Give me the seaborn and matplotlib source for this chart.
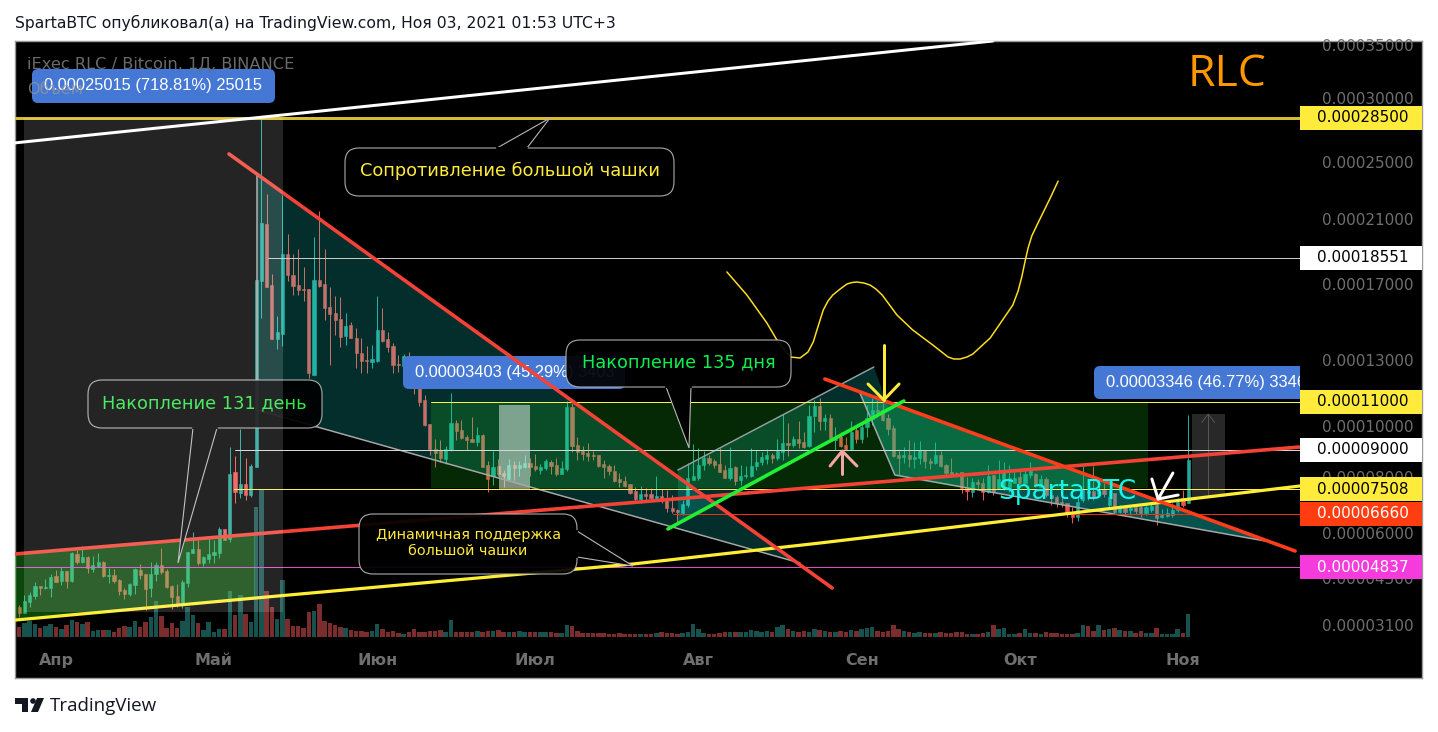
import numpy as np
import pandas as pd
import matplotlib
matplotlib.use("Agg")
import matplotlib.pyplot as plt
from matplotlib.patches import FancyBboxPatch, Polygon, Rectangle, Circle
import seaborn as sns

# -- Data: prices in satoshi (1e-8 BTC), days counted from 1 April ----------
FIRST_DAY = -7
OPEN = [3637,3457,3787,3967,4267,4207,4207,4567,4417,4717,4417,5280,5008,5179,4777,4871,5008,4567,4597,4447,4147,4027,4297,4747,4627,4207,4627,4905,4717,4267,3967,3697,
        4357,5316,5453,4974,5111,5247,5316,6139,5795,8185,7372,7713,7304,8370,17180,20693,16945,14105,14368,18803,
        17540,16945,16735,16735,12285,17240,17000,15788,15472,15157,14262,14841,14157,13368,13000,12904,12952,14578,14105,13736,
        12809,12714,13210,12523,12047,11095,10084,9042,9000,8666,
        9000,10125,9834,9542,9459,9334,9625,8444,8037,8407,8148,7918,8444,8333,8370,8518,8407,8259,8333,8555,
        8444,8111,8296,10792,9208,8962,8888,8814,8814,8481,8407,8222,7918,7836,7713,7440,7168,7338,7338,7202,
        7270,7135,6863,6796,6694,6965,7877,7959,8444,8703,8592,8481,8259,7959,8370,7877,8037,8037,8407,8555,
        8666,8814,8703,8925,9292,9208,9459,9334,9167,10417,10834,10209,10334,9417,9542,9208,9042,9834,9459,9959,
        10292,10667,10667,10334,9917,8814,8740,8814,8666,8703,8962,8592,8518,8814,8444,8185,8148,8185,7549,7406,
        7795,7754,7406,8074,7508,7590,7590,7754,8000,7754,8074,8111,7590,7918,7304,7236,7067,7033,6694,6556,
        7135,7440,7440,7338,7474,6965,7372,6728,6897,6796,6897,6897,6694,6796,6965,6556,6590,6625,6796,7202,7033]
HIGH = [3697,3997,4087,4387,4267,4477,4627,4747,4837,4717,5350,5520,5555,5213,5213,5316,5042,4807,4777,4477,4207,4357,4807,4940,4627,5008,5008,5487,4777,4297,4327,4447,
        5350,6035,5760,5213,5863,5760,6208,6139,9125,8777,9876,8703,8481,17240,28500,22750,17600,15314,22680,20063,
        18803,19118,18020,16735,19874,21560,19118,16840,16366,16314,15472,14999,14683,14157,13736,13789,16366,15735,14473,13894,
        13263,13316,13421,12523,12523,11333,10084,9459,9417,9167,
        11430,10250,10250,9625,10375,9959,9667,8592,8962,8666,8259,8666,8592,8592,8814,8703,8851,8481,8666,8629,
        8703,8592,11048,10958,9542,9167,9292,8962,8814,8629,8481,8444,8148,8037,7713,7590,7631,7549,7549,8037,
        7508,7474,7304,6830,7135,8518,9250,9083,8962,8814,8666,9083,8444,9125,8407,8444,8407,9083,9000,8925,
        9042,8888,9459,10500,10125,9584,10209,9750,10875,11095,11190,10500,10500,9959,9750,9542,10209,9959,10125,10875,
        11190,11095,10958,10500,10042,9042,9125,9417,9334,9375,9000,8703,9334,8962,8481,8703,8185,8185,8000,7959,
        7918,7959,8444,8074,8629,8555,8444,8222,8259,8333,8555,8148,8074,8000,7474,7304,7202,7033,6897,7236,
        8407,7672,8407,7754,7754,7474,7372,6965,6965,6965,6999,6965,6965,7033,7033,6830,6863,7033,7202,7474,10459]
LOW = [3337,3457,3637,3877,3997,4177,3937,4387,4297,4207,4387,4940,4974,4657,4687,4837,4537,4357,4357,3997,3877,3967,4027,4477,3547,3937,4417,4627,4207,3577,3637,3607,
       4237,5316,4905,4871,4974,4974,5145,5760,5692,7033,7202,7135,7236,8370,15209,16840,14105,13579,13736,17180,
       16419,16419,16103,12142,12285,16840,15104,12761,14315,13684,13789,14157,12618,12380,12380,12618,12904,13947,13421,12380,
       12428,12666,12428,11381,10834,10000,8814,8370,8555,8481,
       8962,9417,9459,9000,9334,9167,8370,7406,7672,8037,7590,7877,7877,8037,8333,8037,8222,8111,8259,8111,
       8037,8111,8222,8925,8629,8629,8592,8629,8370,7959,8074,7795,7590,7590,7338,7033,7033,7101,7135,7135,
       7033,6728,6694,6347,6625,6897,7877,7877,8259,8444,8333,8185,7959,7877,7672,7672,7959,8000,8259,8444,
       8481,8518,8629,8629,8777,9125,9083,9083,9125,9750,9834,9834,9417,9000,9125,9000,9000,9292,9292,9542,
       10042,10375,10209,9625,8740,8074,8518,8370,8333,8481,8333,8296,8481,8370,8074,8037,8000,7372,7135,7236,
       7508,7135,7372,7304,7508,7474,7406,7754,7713,7754,7959,7590,7590,7236,6965,6897,6897,6556,6347,6416,
       7067,7135,7135,7236,7236,6897,6694,6694,6660,6625,6660,6556,6625,6728,6278,6521,6556,6556,6728,6897,7033]
CLOSE = [3457,3817,3997,4267,4207,4237,4537,4387,4717,4417,5316,5008,5179,4807,4905,5008,4567,4597,4417,4117,4027,4327,4777,4597,4177,4627,4905,4687,4237,3937,3697,4387,
         5350,5453,4974,5179,5282,5350,6139,5760,8111,7406,7713,7304,8407,17240,20756,16840,14105,14473,18803,17540,
         16892,16682,16682,12380,17240,16892,15735,15420,15104,14210,14788,14157,13368,12952,12952,13053,14578,13999,13684,12761,
         12761,13210,12523,12047,11000,10042,9042,8888,8703,9042,
         10125,9792,9500,9417,9334,9625,8370,7918,8370,8111,8037,8444,8333,8444,8518,8370,8296,8370,8592,8407,
         8111,8333,10792,9167,8925,8851,8777,8777,8407,8370,8222,7836,7795,7631,7372,7168,7338,7270,7202,7270,
         7101,6863,6762,6728,6999,7959,8037,8444,8703,8518,8444,8185,7959,8333,7836,8037,8074,8407,8555,8740,
         8814,8703,8962,9292,9208,9459,9292,9125,10417,10834,10209,10334,9500,9500,9167,9042,9750,9459,9959,10334,
         10667,10584,10250,9876,8777,8703,8814,8666,8740,9000,8592,8518,8814,8407,8148,8074,8111,7549,7440,7795,
         7713,7406,8037,7406,7918,8185,7959,7959,7754,8111,8222,7631,7918,7304,7202,7033,6999,6694,6556,7067,
         7474,7372,7236,7474,7338,7236,6728,6897,6728,6863,6762,6694,6897,6931,6521,6625,6694,6796,7067,6965,8629]
VOLUME = [10,14,16,13,9,11,13,10,8,12,17,15,13,15,6,7,7,7,5,9,11,10,16,10,15,20,36,21,9,14,9,16,
          30,22,14,7,15,5,8,8,46,22,42,23,15,130,148,46,30,18,57,18,11,11,9,25,26,33,16,14,12,
          10,9,7,6,6,5,6,13,8,5,6,4,3,5,8,
          5,5,6,6,7,5,17,5,5,5,5,6,5,6,6,7,
          5,5,5,6,5,5,5,5,5,5,4,4,
          12,11,6,4,4,4,4,4,3,3,4,3,3,3,3,3,3,4,5,4,4,3,4,
          5,13,8,4,3,3,4,5,5,5,5,5,7,6,5,6,5,10,12,8,6,5,6,5,8,7,6,5,5,
          6,5,7,6,8,9,10,6,5,6,12,8,6,5,4,5,4,4,4,5,4,4,5,5,3,3,3,4,5,12,
          8,9,3,3,4,8,4,4,3,5,4,4,3,3,3,4,12,11,6,12,7,8,9,7,6,6,4,6,4,4,9,3,3,3,8,4,23]

MONTH_DAYS = [0, 30, 61, 91, 122, 153, 183, 214]
MONTH_LABELS = ["Апр", "Май", "Июн", "Июл", "Авг", "Сен", "Окт", "Ноя"]
PRICE_TICKS = [35000, 30000, 25000, 21000, 17000, 13000, 10000, 8000, 6000, 4500, 3100]

# price axis of the chart is neither linear nor log, so it goes through anchors
SCALE_PRICE = [2500, 3100, 4837, 6000, 6660, 7508, 8000, 9000, 11000, 13000, 17000, 18551, 21000, 25000, 28500, 30000, 35000, 35380]
SCALE_PIXEL = [645, 625, 567, 533, 514, 489, 477, 450, 402, 360, 284, 258, 219, 162, 118, 98, 45, 41]

# horizontal levels: price, first day, colour, width
LEVEL_PRICE = [28500, 18551, 11000, 9000, 7508, 6660, 4837]
LEVEL_START = [-7.8, 40.3, 71.2, 34.0, 33.8, 117.2, -7.8]
LEVEL_COLOR = ["#d6bd2e", "#c9c9c9", "#fff04a", "#d5d5d5", "#fff04a", "#e8301a", "#d94fc8"]
LEVEL_WIDTH = [3, 1, 1, 1, 1, 1, 1]
TAG_FILL = ["#ffeb3b", "#ffffff", "#ffeb3b", "#ffffff", "#ffeb3b", "#ff3d10", "#f63bdc"]
TAG_TEXT = ["#000000", "#000000", "#000000", "#000000", "#000000", "#ffffff", "#ffffff"]

# drawn trend lines
WHITE_DAY, WHITE_PRICE = [-7.8, 177.9], [26520, 35380]
RED1_DAY, RED1_PRICE = [32.85, 147.4], [25640, 4207]
RED2_DAY, RED2_PRICE = [146.0, 235.3], [12095, 5384]
RED3_DAY, RED3_PRICE = [-7.8, 236.2], [5282, 9125]
SUPPORT_DAY, SUPPORT_PRICE = [-7.8, 37.8, 109.6, 145.1, 236.2], [3247, 3907, 4940, 5658, 7631]
GREEN_DAY, GREEN_PRICE = [116.2, 161.0], [6139, 11048]
BRUSH_DAY = [127.4,131.2,135.0,136.9,139.4,141.3,142.8,143.8,144.5,145.1,145.7,146.6,147.5,148.9,150.2,151.2,152.1,153.4,154.6,155.7,
             156.9,159.7,162.7,166.5,169.4,170.5,171.7,173.0,174.1,177.4,181.7,182.7,183.4,184.0,184.6,185.3,186.3,188.8,190.3]
BRUSH_PRICE = [17720,16419,14946,14052,13158,13105,13421,13947,14578,15104,15630,16103,16419,16735,17000,17090,17120,17060,16945,16735,
               16419,15367,14578,13789,13158,13053,13053,13158,13316,14157,15893,16630,17420,18320,19181,19937,20630,22470,23660]

# shaded regions
WEDGE1_DAY, WEDGE1_PRICE = [38.17, 141.28, 38.17], [24150, 4974, 10667]
WEDGE2_DAY, WEDGE2_PRICE = [118.1, 155.3, 158.2, 118.1], [8259, 12666, 10667, 6347]
WEDGE3_DAY, WEDGE3_PRICE = [152.5, 159.3, 230.7], [11524, 8074, 5692]
BASE_DAY, BASE_PRICE = [-7.8, 37.8, 37.8, -7.8], [5282, 5966, 3907, 3247]
RANGE_DAY, RANGE_PRICE = [71.2, 207.4], [11000, 7549]
HILITE_DAY, HILITE_PRICE = [84.1, 90.0], [10875, 7508]
GREY_DAY, GREY_PRICE = [-6.08, 43.1], [28500, 3487]
GREY2_DAY, GREY2_PRICE = [215.7, 221.9], [10500, 7236]

# arrows: shaft then head
ARROWS = [
    ("#ffeb3b", [157.2, 157.2], [13789, 11095], [154.2, 157.2, 160.1], [11857, 11095, 11857]),
    ("#f4a6a0", [149.3, 149.3], [8111, 8962], [147.0, 149.3, 152.1], [8407, 8962, 8407]),
    ("#ffffff", [212.1, 209.3], [8148, 7168], [208.1, 209.3, 213.1], [7918, 7168, 7304]),
]

# -- Style -------------------------------------------------------------------
sns.set_theme(style="dark")
plt.rcParams["font.family"] = ["DejaVu Sans"]

UP, DOWN = "#26a69a", "#ef5350"
TICK_GREY = "#6f6f6f"
W, H = 1438, 732
L, R, T, B = 15, 1300, 41, 645


def rect(x0, y0, x1, y1):
    return [x0 / W, 1 - y1 / H, (x1 - x0) / W, (y1 - y0) / H]


def forward(p):
    return np.interp(p, SCALE_PRICE, -np.array(SCALE_PIXEL, dtype=float))


def inverse(v):
    return np.interp(v, -np.array(SCALE_PIXEL, dtype=float), SCALE_PRICE)


fig = plt.figure(figsize=(W / 100, H / 100), dpi=100, facecolor="white")

bg = fig.add_axes(rect(15, 41, 1422, 678), facecolor="black")
bg.set_xticks([])
bg.set_yticks([])
for s in bg.spines.values():
    s.set_color("#9a9a9a")
    s.set_linewidth(1)

days = np.arange(FIRST_DAY, FIRST_DAY + len(OPEN))
opens, highs, lows, closes = map(np.array, (OPEN, HIGH, LOW, CLOSE))
is_up = closes >= opens
xlim = ((L - 56) / 5.266, (R - 56) / 5.266)

# volume pane
vol = fig.add_axes(rect(L, T, R, 637), facecolor="none")
vol_df = pd.DataFrame({"day": days, "volume": VOLUME, "side": np.where(is_up, "up", "down")})
sns.barplot(data=vol_df, x="day", y="volume", hue="side", native_scale=True, dodge=False,
            palette={"up": "#17524f", "down": "#7b2c2c"}, width=0.85, errorbar=None,
            legend=False, saturation=1, linewidth=0, ax=vol)
vol.set_xlim(*xlim)
vol.set_ylim(0, 596)
vol.set_axis_off()

# price pane
ax = fig.add_axes(rect(L, T, R, B), facecolor="none")
ax.set_yscale("function", functions=(forward, inverse))
px = fig.add_axes(rect(L, T, R, B))
px.set_xlim(L, R)
px.set_ylim(B, T)
px.set_axis_off()
PX = px.transData

colors = [UP if u else DOWN for u in is_up]
ax.vlines(days, lows, highs, colors=colors, linewidth=0.72, zorder=2)
ax.bar(days, np.abs(closes - opens), bottom=np.minimum(opens, closes), width=0.6,
       color=colors, edgecolor=colors, linewidth=0.4, zorder=2)


def stroke(xs, ys, color, width, z=4, alpha=1.0):
    sns.lineplot(x=xs, y=ys, sort=False, estimator=None, color=color, linewidth=width * 0.72,
                 zorder=z, alpha=alpha, ax=ax)


def box(xs, ys, color, alpha, z=3):
    ax.fill([xs[0], xs[1], xs[1], xs[0]], [ys[0], ys[0], ys[1], ys[1]], color=color, alpha=alpha,
            linewidth=0, zorder=z)


# shaded areas sit over the candles, that is what dulls them
ax.fill(WEDGE1_DAY, WEDGE1_PRICE, color="#16e8d8", alpha=0.2, linewidth=0, zorder=3)
ax.fill(WEDGE2_DAY, WEDGE2_PRICE, color="#16e8d8", alpha=0.2, linewidth=0, zorder=3)
ax.fill(WEDGE3_DAY, WEDGE3_PRICE, color="#10c4b8", alpha=0.42, linewidth=0, zorder=3)
ax.fill(BASE_DAY, BASE_PRICE, color="#22cc22", alpha=0.35, linewidth=0, zorder=3)
box(RANGE_DAY, RANGE_PRICE, "#1acc1a", 0.2)
box(HILITE_DAY, HILITE_PRICE, "#ffffff", 0.48, z=3.2)
box(GREY2_DAY, GREY2_PRICE, "#ffffff", 0.16)
stroke([218.8, 218.8], [7236, 10500], "#555555", 1, z=3.1)
stroke([217.6, 218.8, 220.0], [10150, 10500, 10150], "#555555", 1, z=3.1)

stroke([WEDGE1_DAY[0], WEDGE1_DAY[2], WEDGE1_DAY[1]], [WEDGE1_PRICE[0], WEDGE1_PRICE[2], WEDGE1_PRICE[1]], "#a8a8a8", 1.5)
stroke(WEDGE2_DAY[:2], WEDGE2_PRICE[:2], "#8f9f9f", 1.5)
stroke(WEDGE3_DAY, WEDGE3_PRICE, "#a8a8a8", 1.5)

for price, start, color, width in zip(LEVEL_PRICE, LEVEL_START, LEVEL_COLOR, LEVEL_WIDTH):
    stroke([start, xlim[1]], [price, price], color, width)

stroke(WHITE_DAY, WHITE_PRICE, "#ffffff", 3)
stroke(RED3_DAY, RED3_PRICE, "#f44336", 3.6)
stroke(SUPPORT_DAY, SUPPORT_PRICE, "#ffee33", 3.2)
stroke(RED1_DAY, RED1_PRICE, "#f44336", 3.6)
stroke(RED2_DAY, RED2_PRICE, "#ff3d1a", 3.6)
stroke(GREEN_DAY, GREEN_PRICE, "#22ee33", 3.6)
stroke(BRUSH_DAY, BRUSH_PRICE, "#ffe01f", 1.5)
for color, sx, sy, hx, hy in ARROWS:
    stroke(sx, sy, color, 3)
    stroke(hx, hy, color, 3)


# measuring tags, under the drawn lines
def blue_tag(x0, y0, x1, y1, label, tx):
    ax.add_patch(FancyBboxPatch((x0 + 6, y0 + 6), x1 - x0 - 12, y1 - y0 - 12,
                                boxstyle="round,pad=6,rounding_size=6", transform=PX,
                                fc="#4478d4", ec="none", zorder=3.5))
    t = ax.text(tx, (y0 + y1) / 2 - 0.5, label, transform=PX, color="white", va="center", ha="left",
                family="Liberation Sans", fontsize=11.9, zorder=3.6)
    t.set_clip_on(True)


blue_tag(32, 69, 275, 103, "0.00025015 (718.81%) 25015", 44)
blue_tag(403, 356, 625, 389, "0.00003403 (45.29%) 3403", 415)
blue_tag(1094, 366, 1330, 399, "0.00003346 (46.77%) 3346", 1106)


# speech bubbles
def callout(x0, y0, x1, y1, tail, label, cx, cy, color, size, ls=1.2):
    edge = "#b8b8b8"
    ax.add_patch(FancyBboxPatch((x0 + 14, y0 + 14), x1 - x0 - 28, y1 - y0 - 28,
                                boxstyle="round,pad=14,rounding_size=14", transform=PX,
                                fc="#000000", ec=edge, lw=0.8, alpha=0.93, zorder=5))
    ax.add_patch(Polygon(tail, closed=False, transform=PX, fc="#000000", ec=edge, lw=0.8, zorder=5.1))
    (ax0, ay0), (ax1, ay1) = tail[0], tail[-1]
    ax.plot([ax0, ax1], [ay0, ay1], transform=PX, color="#000000", lw=1.6, zorder=5.2, scalex=False, scaley=False)
    ax.text(cx, cy, label, transform=PX, color=color, ha="center", va="center", fontsize=size,
            linespacing=ls, zorder=5.3)


callout(88, 380, 322, 428, [(193, 428), (178, 563), (217, 428)], "Накопление 131 день", 204, 403, "#2ee84a", 12.75)
ax.fill([GREY_DAY[0], GREY_DAY[1], GREY_DAY[1], GREY_DAY[0]],
        [GREY_PRICE[0], GREY_PRICE[0], GREY_PRICE[1], GREY_PRICE[1]],
        color="#ffffff", alpha=0.145, linewidth=0, zorder=6)
callout(566, 340, 791, 387, [(666, 387), (689, 448), (691, 387)], "Накопление 135 дня", 679, 362, "#0ef04e", 12.8)
callout(345, 148, 674, 196, [(497, 148), (550, 118), (527, 148)], "Сопротивление большой чашки", 510, 171, "#ffeb3b", 12.8)
callout(359, 514, 577, 574, [(577, 531), (633, 566), (577, 557)], "Динамичная поддержка\nбольшой чашки", 468, 543, "#ffe93b", 10.4)

ax.text(998, 492, "SpartaBTC", transform=PX, color="#18f5e8", fontsize=19, ha="left", va="center", zorder=5.4)
ax.text(1227, 75, "RLC", transform=PX, color="#ff9800", fontsize=32, ha="center", va="center",
        family="Open Sans", zorder=5.4)
ax.text(27, 64, "iExec RLC / Bitcoin, 1Д, BINANCE", transform=PX, color="#6a6a6a", fontsize=11.7,
        ha="left", va="center", zorder=5.4)
ax.text(27, 90, "Объем", transform=PX, color="#9a9a9a", alpha=0.7, fontsize=11.5, ha="left", va="center", zorder=5.4)

ax.set_xlim(*xlim)
ax.set_ylim(SCALE_PRICE[0], SCALE_PRICE[-1])
ax.set_xlabel("")
ax.set_ylabel("")
ax.set_xticks(MONTH_DAYS, MONTH_LABELS)
ax.set_yticks(PRICE_TICKS, [f"{p / 1e8:.8f}" for p in PRICE_TICKS])
ax.minorticks_off()
ax.yaxis.tick_right()
ax.tick_params(axis="x", length=0, pad=6, labelcolor=TICK_GREY, labelsize=11.5)
ax.tick_params(axis="y", length=0, pad=16, labelcolor=TICK_GREY, labelsize=11)
for lab in ax.get_xticklabels():
    lab.set_fontweight("bold")
ax.grid(False)
for s in ax.spines.values():
    s.set_visible(False)

# right hand price tags, header and footer share a figure wide pixel layer
top = fig.add_axes([0, 0, 1, 1], facecolor="none", zorder=10)
top.set_xlim(0, W)
top.set_ylim(H, 0)
top.set_axis_off()
for price, fill, ink in zip(LEVEL_PRICE, TAG_FILL, TAG_TEXT):
    y = np.interp(price, SCALE_PRICE, SCALE_PIXEL)
    top.add_patch(Rectangle((1300, y - 12), 122, 24, fc=fill, ec="none"))
    top.text(1363, y, f"{price / 1e8:.8f}", color=ink, fontsize=11, ha="center", va="center")

top.text(15, 23, "SpartaBTC опубликовал(а) на TradingView.com, Ноя 03, 2021 01:53 UTC+3",
         color="#131722", fontsize=11.25, ha="left", va="center")
top.add_patch(Polygon([(15, 698), (28, 698), (28, 712), (22, 712), (22, 704), (15, 704)], fc="#131722", ec="none"))
top.add_patch(Circle((33, 701), 2.8, fc="#131722", ec="none"))
top.add_patch(Polygon([(37, 698), (44, 698), (38, 712), (31, 712)], fc="#131722", ec="none"))
top.text(50, 706, "TradingView", color="#131722", fontsize=13.5, family="Open Sans", ha="left", va="center")

fig.savefig("out.png", dpi=100, facecolor="white")
